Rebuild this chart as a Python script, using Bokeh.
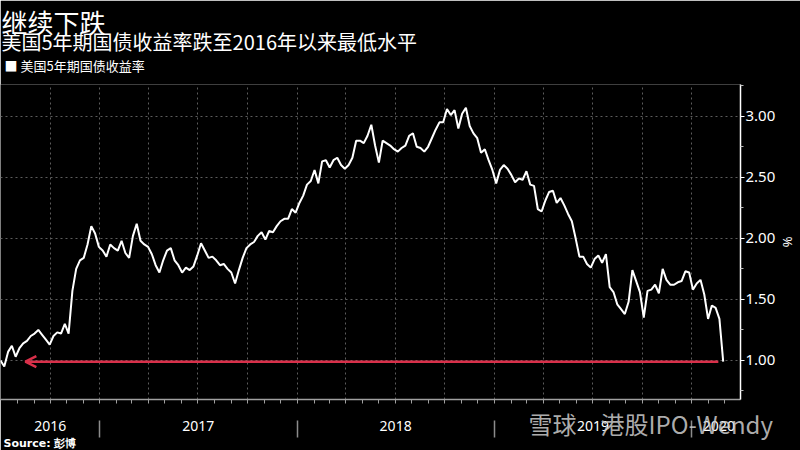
import pandas as pd
from bokeh.plotting import figure
from bokeh.models import (ColumnDataSource, Range1d, FixedTicker, LinearAxis, Title,
                          Arrow, OpenHead, NumeralTickFormatter, CustomJSTickFormatter)
from bokeh.embed import file_html
from bokeh.resources import INLINE

# ---------------- data (weekly Friday readings) ----------------
start_date = "2016-07-01"
y_2016 = [1.00, 0.95, 1.07, 1.12, 1.03,
          1.10, 1.14, 1.16, 1.20,
          1.22, 1.25, 1.21, 1.17, 1.13,
          1.20, 1.23, 1.22, 1.30,
          1.22, 1.57, 1.75, 1.82,
          1.84, 1.95, 2.10, 2.04, 1.93]
y_2017 = [1.90, 1.85, 1.95, 1.92,
          1.90, 1.98, 1.88, 1.84,
          2.02, 2.12, 1.98, 1.95, 1.93,
          1.87, 1.78, 1.72, 1.82,
          1.90, 1.92, 1.82, 1.78,
          1.72, 1.76, 1.74, 1.77, 1.86,
          1.96, 1.90, 1.84, 1.85,
          1.82, 1.78, 1.79, 1.75,
          1.72, 1.63, 1.74, 1.84, 1.92,
          1.95, 1.97, 2.02, 2.05,
          1.99, 2.06, 2.05, 2.10,
          2.14, 2.16, 2.16, 2.24, 2.21]
y_2018 = [2.29, 2.35, 2.44, 2.47,
          2.56, 2.45, 2.63, 2.64,
          2.58, 2.64, 2.66, 2.60, 2.57,
          2.60, 2.66, 2.80, 2.80,
          2.78, 2.84, 2.93, 2.76,
          2.62, 2.80, 2.78, 2.76, 2.73,
          2.71, 2.74, 2.76, 2.84,
          2.86, 2.75, 2.74, 2.71, 2.75,
          2.82, 2.89, 2.95, 2.95,
          3.06, 3.01, 3.05, 2.90,
          3.02, 3.07, 2.92, 2.86, 2.82,
          2.70, 2.73, 2.64, 2.56]
y_2019 = [2.45, 2.56, 2.60, 2.57,
          2.52, 2.46, 2.49, 2.48,
          2.55, 2.44, 2.43, 2.24, 2.22,
          2.31, 2.38, 2.39, 2.29,
          2.33, 2.27, 2.20, 2.14, 2.00,
          1.85, 1.85, 1.79, 1.76,
          1.83, 1.86, 1.80, 1.87,
          1.60, 1.56, 1.46, 1.42, 1.38,
          1.48, 1.74, 1.65, 1.56,
          1.35, 1.57, 1.58, 1.62,
          1.55, 1.75, 1.66, 1.62, 1.62,
          1.64, 1.65, 1.73, 1.72]
y_2020 = [1.58, 1.63, 1.66, 1.54, 1.34,
          1.45, 1.43, 1.34, 0.99]
yields = y_2016 + y_2017 + y_2018 + y_2019 + y_2020

y_ticks = [1.0, 1.5, 2.0, 2.5, 3.0]
y_minor = [0.75, 1.25, 1.75, 2.25, 2.75, 3.25]
low_level = 0.99
arrow_from, arrow_to = "2020-02-19", "2016-08-16"

title_text = "继续下跌"
subtitle_text = "美国5年期国债收益率跌至2016年以来最低水平"
legend_text = "■ 美国5年期国债收益率"
source_text = "Source: 彭博"
watermark_text = "雪球　港股IPO-Wendy"

# ---------------- helpers ----------------
def ms(d):
    return (pd.Timestamp(d) - pd.Timestamp("1970-01-01")).total_seconds() * 1000.0

dates = pd.date_range(start_date, periods=len(yields), freq="W-FRI")
src = ColumnDataSource(dict(date=dates, y=yields))

x_start, x_end = "2016-07-01", "2020-03-31"
month_ticks = [ms(d) for d in pd.date_range("2016-08-01", "2020-03-01", freq="MS")]
quarter_ticks = [ms(d) for d in pd.date_range("2016-10-01", "2020-01-01", freq="QS")]
year_bounds = [ms(d) for d in ["2017-01-01", "2018-01-01", "2019-01-01", "2020-01-01"]]
year_mids = [ms(d) for d in ["2016-10-01", "2017-07-02", "2018-07-02", "2019-07-02", "2020-02-20"]]
watermark_at = [ms("2019-10-17")]

CJK = "Noto Sans CJK SC"
RED = "#d9304a"
GRID = "#5c5c5c"

p = figure(width=800, height=450, x_axis_type="datetime", y_axis_location="right",
           x_range=Range1d(ms(x_start), ms(x_end)), y_range=Range1d(0.68, 3.26),
           output_backend="svg", toolbar_location=None,
           background_fill_color="black", border_fill_color="black",
           outline_line_color=None,
           min_border_left=0, min_border_right=58, min_border_top=84, min_border_bottom=51)

# data line
p.line("date", "y", source=src, line_color="white", line_width=2)

# red arrow
p.add_layout(Arrow(end=OpenHead(size=11, line_color=RED, line_width=2.5),
                   x_start=ms(arrow_from), y_start=low_level, x_end=ms(arrow_to), y_end=low_level,
                   line_color=RED, line_width=2.5))

# grids
p.ygrid.grid_line_color = GRID
p.ygrid.grid_line_dash = "2 3"
p.xgrid.ticker = FixedTicker(ticks=quarter_ticks)
p.xgrid.grid_line_color = GRID
p.xgrid.grid_line_dash = "2 3"

# right y axis
ya = p.yaxis[0]
ya.ticker = FixedTicker(ticks=y_ticks, minor_ticks=y_minor)
ya.formatter = NumeralTickFormatter(format="0.00")
ya.axis_line_color = "white"
ya.axis_line_width = 1.5
ya.major_tick_line_color = "white"
ya.major_tick_out = 4
ya.major_tick_in = 0
ya.minor_tick_line_color = "#bbbbbb"
ya.minor_tick_out = 3
ya.minor_tick_in = 0
ya.major_label_text_color = "white"
ya.major_label_text_font = "Noto Sans"
ya.major_label_text_font_size = "15px"
ya.major_label_standoff = 1
ya.axis_label = "%"
ya.axis_label_text_color = "white"
ya.axis_label_text_font = "Noto Sans"
ya.axis_label_text_font_size = "13px"
ya.axis_label_text_font_style = "normal"
ya.axis_label_standoff = 1

# bottom axis 1: axis line + monthly ticks
xa = p.xaxis[0]
xa.ticker = FixedTicker(ticks=[], minor_ticks=month_ticks)
xa.axis_line_color = "#a0a0a0"
xa.axis_line_width = 1.5
xa.minor_tick_line_color = "#a0a0a0"
xa.minor_tick_out = 4
xa.minor_tick_in = 0
xa.major_tick_out = 0
xa.major_tick_in = 0
xa.major_label_text_font_size = "0px"

# bottom axis 2: year labels and separators
xa2 = LinearAxis(ticker=FixedTicker(ticks=year_mids, minor_ticks=year_bounds),
                 formatter=CustomJSTickFormatter(code="return String(new Date(tick).getUTCFullYear())"),
                 axis_line_color=None, major_tick_line_color=None,
                 major_tick_out=0, major_tick_in=0,
                 minor_tick_line_color="#8c8c8c", minor_tick_out=34, minor_tick_in=-17,
                 minor_tick_line_width=1.5,
                 major_label_text_color="white", major_label_text_font="Noto Sans",
                 major_label_text_font_size="14px", major_label_standoff=-17)
p.add_layout(xa2, "below")

p.add_layout(Title(text=source_text, align="left", text_color="white", text_font="DejaVu Sans",
                   text_font_size="11px", text_font_style="bold", offset=3, standoff=2), "below")

# watermark, overlaid on the year row
xa3 = LinearAxis(ticker=FixedTicker(ticks=watermark_at, minor_ticks=[]),
                 formatter=CustomJSTickFormatter(code="return '" + watermark_text + "'"),
                 axis_line_color=None, major_tick_line_color=None, minor_tick_line_color=None,
                 major_tick_out=0, major_tick_in=0, minor_tick_out=0, minor_tick_in=0,
                 major_label_text_color="#cccccc", major_label_text_alpha=0.85,
                 major_label_text_font=CJK, major_label_text_font_size="24px",
                 major_label_standoff=-45)
p.add_layout(xa3, "below")

# header: legend line, subtitle, title (closest to frame first)
p.add_layout(Title(text=legend_text, align="left", text_color="white", text_font=CJK,
                   text_font_size="13px", text_font_style="normal", offset=4, standoff=20), "above")
p.add_layout(Title(text=subtitle_text, align="left", text_color="white", text_font=CJK,
                   text_font_size="20px", text_font_style="normal", offset=1, standoff=-25), "above")
p.add_layout(Title(text=title_text, align="left", text_color="white", text_font=CJK,
                   text_font_size="26px", text_font_style="normal", offset=1, standoff=-5), "above")

open("out.html", "w").write(file_html(p, INLINE))
